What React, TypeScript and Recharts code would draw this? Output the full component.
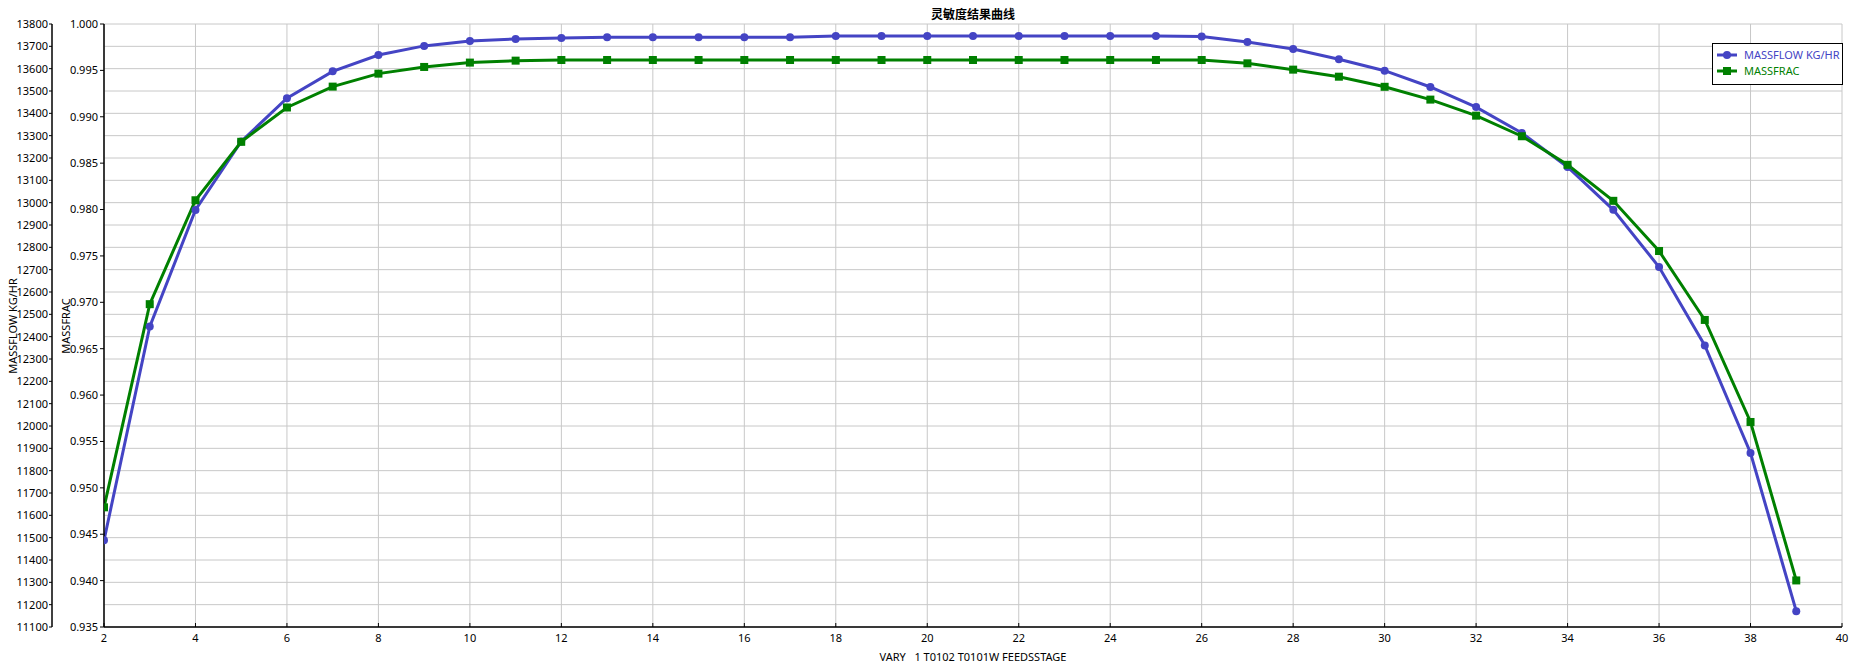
import React from 'react';
import { LineChart, Line, XAxis, YAxis, CartesianGrid, Legend } from 'recharts';

const stages = [2, 3, 4, 5, 6, 7, 8, 9, 10, 11, 12, 13, 14, 15, 16, 17, 18, 19, 20, 21, 22, 23, 24, 25, 26, 27, 28, 29, 30, 31, 32, 33, 34, 35, 36, 37, 38, 39];

const massflow = [11488, 12445, 12967, 13274, 13468, 13588, 13661, 13702, 13724, 13733, 13737, 13741, 13741, 13741, 13741, 13741, 13746, 13746, 13746, 13746, 13746, 13746, 13746, 13746, 13744, 13719, 13688, 13642, 13591, 13518, 13428, 13312, 13160, 12968, 12712, 12361, 11879, 11171];

const massfrac = [0.9479, 0.9698, 0.981, 0.9873, 0.991, 0.99325, 0.99465, 0.99537, 0.99584, 0.99605, 0.99612, 0.99612, 0.99612, 0.99612, 0.99612, 0.99612, 0.99612, 0.99612, 0.99612, 0.99612, 0.99612, 0.99612, 0.99612, 0.99612, 0.99612, 0.99576, 0.99508, 0.99432, 0.99323, 0.99185, 0.99012, 0.9879, 0.98482, 0.98094, 0.97553, 0.9681, 0.9571, 0.94002];

const xTicks = [2, 4, 6, 8, 10, 12, 14, 16, 18, 20, 22, 24, 26, 28, 30, 32, 34, 36, 38, 40];

const massflowTicks = [11100, 11200, 11300, 11400, 11500, 11600, 11700, 11800, 11900, 12000, 12100, 12200, 12300, 12400, 12500, 12600, 12700, 12800, 12900, 13000, 13100, 13200, 13300, 13400, 13500, 13600, 13700, 13800];

const massfracTicks = [0.935, 0.94, 0.945, 0.95, 0.955, 0.96, 0.965, 0.97, 0.975, 0.98, 0.985, 0.99, 0.995, 1.0];

const seriesNames = ['MASSFLOW KG/HR', 'MASSFRAC'];
const titleText = '灵敏度结果曲线';
const xLabelText = 'VARY   1 T0102 T0101W FEEDSSTAGE';

const BLUE = '#4444C4';
const GREEN = '#008000';
const FONT = '"Noto Sans", "Open Sans", sans-serif';

const FLOW_ID = 'b_flow';
const FRAC_ID = 'a_frac';

const data = stages.map((s, i) => ({ stage: s, massflow: massflow[i], massfrac: massfrac[i] }));

const SquareDot = (props: any) => {
  const { cx, cy } = props;
  if (cx == null || cy == null) return null;
  return <rect x={cx - 4} y={cy - 4} width={8} height={8} fill={GREEN} />;
};

const CircleDot = (props: any) => {
  const { cx, cy } = props;
  if (cx == null || cy == null) return null;
  return <circle cx={cx} cy={cy} r={4} fill={BLUE} />;
};

const LegendContent = () => (
  <div
    style={{
      border: '1px solid #000',
      background: '#fff',
      width: 129,
      height: 37,
      fontFamily: FONT,
      fontSize: 11,
      paddingTop: 3,
      boxSizing: 'content-box',
    }}
  >
    {[
      { name: seriesNames[0], color: BLUE, shape: 'circle' },
      { name: seriesNames[1], color: GREEN, shape: 'square' },
    ].map((e) => (
      <div key={e.name} style={{ display: 'flex', alignItems: 'center', height: 16, paddingLeft: 4 }}>
        <svg width={20} height={10} style={{ marginRight: 7 }}>
          <line x1={0} y1={5} x2={20} y2={5} stroke={e.color} strokeWidth={3} />
          {e.shape === 'circle' ? (
            <circle cx={10} cy={5} r={4} fill={e.color} />
          ) : (
            <rect x={6} y={1} width={8} height={8} fill={e.color} />
          )}
        </svg>
        <span style={{ color: e.color, lineHeight: '16px' }}>{e.name}</span>
      </div>
    ))}
  </div>
);

export default function App() {
  return (
    <div style={{ position: 'absolute', left: 0, top: 0, width: 1860, height: 665, background: '#fff', fontFamily: FONT }}>
      <div
        style={{
          position: 'absolute',
          left: 973,
          top: 13,
          transform: 'translate(-50%, -50%)',
          fontFamily: '"Noto Sans CJK SC", sans-serif',
          fontWeight: 'bold',
          fontSize: 12,
          whiteSpace: 'nowrap',
          color: '#000',
        }}
      >
        {titleText}
      </div>
      <LineChart
        width={1860}
        height={665}
        data={data}
        margin={{ top: 24, right: 18, bottom: 18, left: 0 }}
      >
        <CartesianGrid yAxisId={FLOW_ID} stroke="#C8C8C8" strokeWidth={1} />
        <XAxis
          dataKey="stage"
          type="number"
          domain={[2, 40]}
          ticks={xTicks}
          interval={0}
          height={20}
          axisLine={{ stroke: '#000', strokeWidth: 1.5 }}
          tickLine={{ stroke: '#000' }}
          tickSize={-4}
          tickMargin={11}
          tick={{ fontSize: 11, fill: '#000', fontFamily: FONT }}
          allowDataOverflow
        />
        <YAxis
          yAxisId={FRAC_ID}
          orientation="left"
          domain={[0.935, 1.0]}
          ticks={massfracTicks}
          interval={0}
          width={52}
          axisLine={{ stroke: '#000', strokeWidth: 1.5 }}
          tickLine={{ stroke: '#000' }}
          tickSize={4}
          tickMargin={2}
          tick={{ fontSize: 11, fill: '#000', fontFamily: FONT }}
          tickFormatter={(v: number) => v.toFixed(3)}
          allowDataOverflow
        />
        <YAxis
          yAxisId={FLOW_ID}
          orientation="left"
          domain={[11100, 13800]}
          ticks={massflowTicks}
          interval={0}
          width={52}
          axisLine={{ stroke: '#000', strokeWidth: 1.5 }}
          tickLine={{ stroke: '#000' }}
          tickSize={3}
          tickMargin={1}
          tick={{ fontSize: 11, fill: '#000', fontFamily: FONT }}
          allowDataOverflow
        />
        <Legend
          layout="vertical"
          align="center"
          verticalAlign="middle"
          content={<LegendContent />}
          wrapperStyle={{ position: 'absolute', left: 1712, top: 43, width: 131, height: 41, right: 'auto', bottom: 'auto' }}
        />
        <Line
          yAxisId={FLOW_ID}
          dataKey="massflow"
          name={seriesNames[0]}
          stroke={BLUE}
          strokeWidth={3}
          dot={<CircleDot />}
          activeDot={false}
          isAnimationActive={false}
        />
        <Line
          yAxisId={FRAC_ID}
          dataKey="massfrac"
          name={seriesNames[1]}
          stroke={GREEN}
          strokeWidth={3}
          dot={<SquareDot />}
          activeDot={false}
          isAnimationActive={false}
        />
      </LineChart>
      <div
        style={{
          position: 'absolute',
          left: 12,
          top: 326,
          transform: 'translate(-50%, -50%) rotate(-90deg)',
          fontSize: 11,
          whiteSpace: 'nowrap',
          color: '#000',
        }}
      >
        {seriesNames[0]}
      </div>
      <div
        style={{
          position: 'absolute',
          left: 65,
          top: 326,
          transform: 'translate(-50%, -50%) rotate(-90deg)',
          fontSize: 11,
          whiteSpace: 'nowrap',
          color: '#000',
        }}
      >
        {seriesNames[1]}
      </div>
      <div
        style={{
          position: 'absolute',
          left: 973,
          top: 656,
          transform: 'translate(-50%, -50%)',
          fontSize: 11,
          whiteSpace: 'pre',
          color: '#000',
        }}
      >
        {xLabelText}
      </div>
    </div>
  );
}
